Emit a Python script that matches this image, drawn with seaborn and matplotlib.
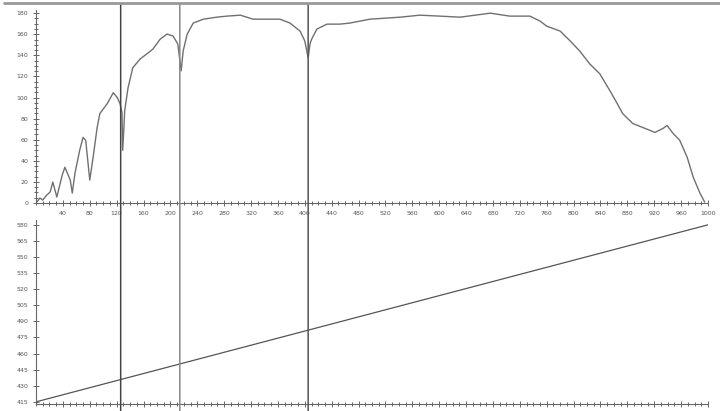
import numpy as np
import pandas as pd
import seaborn as sns
import matplotlib
matplotlib.use("Agg")
import matplotlib.pyplot as plt
from matplotlib.lines import Line2D
from matplotlib.patches import ConnectionPatch
from matplotlib.ticker import MultipleLocator

# top panel: transmission-like curve (x in channel units, y in counts)
curve_x = [0, 6, 10, 16, 21, 25, 31, 39, 43, 51, 54, 58, 65, 70, 74, 77, 80, 85, 91, 95,
           106, 115, 121, 125, 128, 129, 131, 132, 137, 144, 155, 165, 174, 185, 195, 204,
           211, 216, 219, 225, 234, 249, 269, 284, 304, 323, 344, 363, 378, 393, 400, 405,
           408, 411, 418, 433, 452, 467, 497, 542, 571, 601, 631, 676, 705, 735, 750, 760,
           780, 795, 809, 824, 839, 854, 865, 873, 888, 903, 921, 933, 939, 948, 958, 969,
           978, 988, 995]
curve_y = [0, 4.7, 2.8, 7.5, 10.4, 19.8, 5.7, 26.4, 33.9, 21.7, 9.4, 28.3, 50, 62.2, 59.4,
           40.5, 21.7, 43.4, 71.6, 84.8, 94.2, 104.6, 99.9, 94.2, 85.8, 50, 73.5, 87.6,
           109.3, 128.2, 136.6, 141.4, 146, 155.5, 160.2, 158.3, 150.8, 125.3, 144.2, 160.2,
           170.6, 174.3, 176.2, 177.2, 178.1, 174.3, 174.3, 174.3, 170.6, 163, 153.6, 137.6,
           151.7, 156.4, 164.9, 169.6, 169.6, 170.6, 174.3, 176.2, 178.1, 177.2, 176.2, 180,
           177.2, 177.2, 172.5, 167.7, 163, 153.6, 144.2, 131.9, 122.5, 106.5, 94.2, 84.8,
           75.4, 71.6, 66.9, 70.7, 73.5, 66, 59.4, 43.4, 24.5, 9.4, 0.9]

# bottom panel: calibration line (channel -> wavelength)
calib_x = [0, 1000]
calib_y = [415, 580]

# marker lines (channel) and their shades
marker_x = [126, 214, 405]
marker_colors = ["#444444", "#888888", "#555555"]

top_xticks = list(range(40, 1001, 40))
top_yticks = list(range(0, 181, 20))
bottom_yticks = list(range(415, 581, 15))

sns.set_theme(style="ticks")
plt.rcParams["font.family"] = ["DejaVu Sans"]

fig = plt.figure(figsize=(7.2, 4.11), dpi=100)
W, H = 720, 411
ax1 = fig.add_axes([36 / W, 1 - 203 / H, 672 / W, 193 / H])
ax2 = fig.add_axes([36 / W, 1 - 404 / H, 672 / W, 184 / H])

df = pd.DataFrame({"x": curve_x, "y": curve_y})
sns.lineplot(data=df, x="x", y="y", ax=ax1, color="#707070", linewidth=1.0)
sns.lineplot(x=calib_x, y=calib_y, ax=ax2, color="#555555", linewidth=0.9)

ax1.set_xlim(0, 1000)
ax1.set_ylim(0, 183)
ax2.set_xlim(0, 1000)
ax2.set_ylim(413, 584.5)

for ax in (ax1, ax2):
    sns.despine(ax=ax)
    ax.set_xlabel("")
    ax.set_ylabel("")
    ax.spines["left"].set_color("#666666")
    ax.spines["bottom"].set_color("#666666")
    ax.spines["left"].set_linewidth(0.8)
    ax.spines["bottom"].set_linewidth(0.8)
    ax.xaxis.set_minor_locator(MultipleLocator(10))
    ax.tick_params(axis="both", which="both", direction="inout", color="#666666",
                   labelcolor="#555555", labelsize=4.5, width=0.7)
    ax.tick_params(which="major", length=5, pad=3)
    ax.tick_params(which="minor", length=3)

ax1.set_xticks(top_xticks)
ax1.set_yticks(top_yticks)
ax1.yaxis.set_minor_locator(MultipleLocator(5))
ax2.set_xticks(top_xticks)
ax2.set_xticklabels([])
ax2.set_yticks(bottom_yticks)

# vertical marker lines spanning both panels
for mx, mc in zip(marker_x, marker_colors):
    con = ConnectionPatch(xyA=(mx, 1.03), coordsA=ax1.get_xaxis_transform(),
                          xyB=(mx, -0.05), coordsB=ax2.get_xaxis_transform(),
                          color=mc, linewidth=1.1)
    fig.add_artist(con)

# grey frame line at the top of the picture
fig.add_artist(Line2D([0.005, 1.0], [1 - 3 / H, 1 - 3 / H], color="#999999", linewidth=2.0))

fig.savefig("out.png", dpi=100, facecolor="white")
